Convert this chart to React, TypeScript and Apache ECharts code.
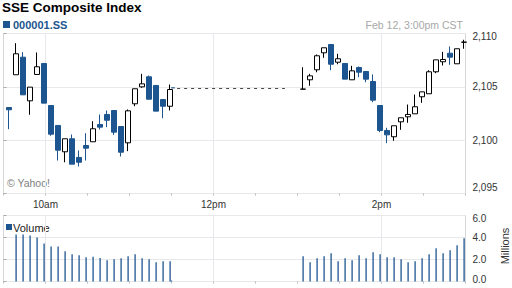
import React, { useEffect, useRef } from "react";
import * as echarts from "echarts";

// ---------- data ----------
const titleText = "SSE Composite Index";
const symbolText = "000001.SS";
const stampText = "Feb 12, 3:00pm CST";
const creditText = "© Yahoo!";
const volumeLegend = "Volume";
const volumeUnit = "Millions";

const candleTimes = [
  "09:34", "09:39", "09:44", "09:49", "09:54", "09:59", "10:04", "10:09", "10:14", "10:19", "10:24", "10:29",
  "10:34", "10:39", "10:44", "10:49", "10:54", "10:59", "11:04", "11:09", "11:14", "11:19", "11:24", "11:29",
  "13:04", "13:09", "13:14", "13:19", "13:24", "13:29", "13:34", "13:39", "13:44", "13:49", "13:54", "13:59",
  "14:04", "14:09", "14:14", "14:19", "14:24", "14:29", "14:34", "14:39", "14:44", "14:49", "14:54", "14:59",
];
const candleOpen = [
  2103.06, 2106.13, 2107.78, 2103.69, 2106.16, 2107.19, 2103.25, 2101.38, 2098.91, 2100.13, 2098.38, 2099.5,
  2099.85, 2101.47, 2102.41, 2102.78, 2101.28, 2099.75, 2103.41, 2105.0, 2105.94, 2105.13, 2103.81, 2103.18,
  2104.78, 2105.66, 2106.6, 2108.19, 2108.97, 2107.31, 2107.19, 2105.66, 2106.81, 2106.44, 2105.5, 2103.25,
  2100.91, 2100.32, 2101.72, 2102.19, 2102.47, 2104.07, 2104.35, 2106.41, 2107.35, 2108.15, 2107.16, 2109.18,
];
const candleClose = [
  2102.85, 2108.1, 2104.25, 2104.97, 2106.88, 2103.47, 2100.56, 2099.06, 2100.13, 2097.75, 2097.93, 2099.25,
  2101.07, 2101.22, 2101.87, 2100.75, 2098.87, 2102.75, 2104.82, 2105.28, 2103.84, 2102.72, 2103.18, 2104.75,
  2104.79, 2106.03, 2107.91, 2108.66, 2107.12, 2107.63, 2105.72, 2106.5, 2106.37, 2105.72, 2103.75, 2100.91,
  2100.5, 2101.35, 2102.1, 2102.41, 2103.13, 2104.53, 2106.41, 2107.53, 2107.56, 2107.78, 2108.57, 2109.19,
];
const candleLow = [
  2101.03, 2106.13, 2104.25, 2102.38, 2106.16, 2103.47, 2100.41, 2098.09, 2097.93, 2097.75, 2097.53, 2098.09,
  2099.85, 2101.0, 2101.22, 2100.5, 2098.47, 2098.97, 2103.18, 2104.91, 2103.84, 2102.72, 2102.06, 2102.78,
  2104.78, 2105.1, 2106.37, 2107.72, 2106.56, 2107.12, 2105.72, 2105.66, 2105.9, 2105.43, 2103.56, 2100.75,
  2099.72, 2099.94, 2100.97, 2101.63, 2102.47, 2103.5, 2104.35, 2106.28, 2107.0, 2107.07, 2107.16, 2108.57,
];
const candleHigh = [
  2103.06, 2109.09, 2108.25, 2104.97, 2108.22, 2107.19, 2103.25, 2101.38, 2100.13, 2100.53, 2099.03, 2100.65,
  2101.78, 2102.41, 2102.78, 2102.78, 2101.28, 2102.88, 2104.82, 2106.22, 2106.06, 2105.13, 2103.81, 2105.22,
  2106.84, 2106.22, 2108.03, 2108.66, 2108.97, 2108.1, 2107.19, 2106.97, 2106.91, 2106.44, 2106.16, 2103.25,
  2101.16, 2101.35, 2102.1, 2103.34, 2104.28, 2104.53, 2106.56, 2107.53, 2108.28, 2108.78, 2108.57, 2109.41,
];

// closing tick of the morning session and the lunch-break line
const closeTickTime = "11:30";
const closeTickPrice = 2104.91;
const lunchTimes = ["11:34", "12:51"];
const lunchPrice = 2104.84;

const volTimes = [
  "09:39", "09:44", "09:49", "09:54", "09:59", "10:04", "10:09", "10:14", "10:19", "10:24", "10:29", "10:34",
  "10:39", "10:44", "10:49", "10:54", "10:59", "11:04", "11:09", "11:14", "11:19", "11:24", "11:29", "11:30",
  "13:04", "13:09", "13:14", "13:19", "13:24", "13:29", "13:34", "13:39", "13:44", "13:49", "13:54", "13:59",
  "14:04", "14:09", "14:14", "14:19", "14:24", "14:29", "14:34", "14:39", "14:44", "14:49", "14:54", "14:59",
];
const volMillions = [
  4.28, 4.28, 4.19, 4.01, 3.46, 3.18, 3.18, 2.75, 2.48, 2.39, 2.2, 2.26,
  2.14, 1.93, 2.02, 2.11, 2.29, 2.48, 2.11, 2.02, 1.74, 1.83, 1.83, 0.09,
  2.29, 1.74, 2.11, 2.29, 2.57, 1.83, 2.11, 1.93, 2.39, 2.11, 2.66, 2.48,
  2.2, 2.2, 2.02, 1.74, 1.83, 2.11, 2.48, 3.03, 2.57, 2.84, 3.3, 3.94,
];

const sessionStart = "09:30";
const sessionEnd = "15:00";
const hourMarks = ["10:00", "12:00", "14:00"];
const hourLabels = ["10am", "12pm", "2pm"];

// ---------- styles ----------
const BLUE = "#1d5590";
const FONT = '"Liberation Sans", Arial, Helvetica, sans-serif';
const FRAME = "#d6d6d6";
const GRID_LINE = "#e7e8ec";
const LABEL = "#333";

const toMin = (t: string) => {
  const [h, m] = t.split(":").map(Number);
  const [h0, m0] = sessionStart.split(":").map(Number);
  return h * 60 + m - (h0 * 60 + m0);
};

export default function App() {
  const ref = useRef<HTMLDivElement>(null);

  useEffect(() => {
    if (!ref.current) return;
    const chart = echarts.init(ref.current, null, { renderer: "svg" });

    const xMax = toMin(sessionEnd);
    const markX = hourMarks.map(toMin);
    const labelFor = (v: number) => {
      const i = markX.indexOf(v);
      return i >= 0 ? hourLabels[i] : "";
    };

    const candles = candleTimes.map((t, i) => [toMin(t), candleOpen[i], candleClose[i], candleLow[i], candleHigh[i]]);
    const vols = volTimes.map((t, i) => [toMin(t), volMillions[i]]);

    const richBase = { fontSize: 10, color: LABEL, fontFamily: FONT };
    const vLines = {
      silent: true,
      z: 1,
      symbol: ["none", "none"],
      label: { show: false },
      lineStyle: { color: GRID_LINE, type: "solid", width: 1 },
      data: markX.map((x) => ({ xAxis: x })),
    };

    const xCommon = {
      type: "value",
      min: 0,
      max: xMax,
      interval: 30,
      axisLine: { show: false },
      axisTick: { show: true, length: 2, lineStyle: { color: "#b8b8b8" } },
      splitLine: { show: false },
    };

    const option: any = {
      animation: false,
      backgroundColor: "#fff",
      textStyle: { fontFamily: FONT },
      grid: [
        { left: 3.5, top: 33.5, width: 462, height: 160, show: true, borderColor: FRAME, borderWidth: 1 },
        { left: 3.5, top: 215.5, width: 462, height: 66, show: true, borderColor: FRAME, borderWidth: 1 },
      ],
      xAxis: [
        {
          ...xCommon,
          gridIndex: 0,
          axisLabel: { formatter: labelFor, fontSize: 10, color: LABEL, margin: 6 },
        },
        { ...xCommon, gridIndex: 1, axisLabel: { show: false } },
      ],
      yAxis: [
        {
          type: "value",
          gridIndex: 0,
          position: "right",
          min: 2095,
          max: 2110,
          interval: 5,
          axisLine: { show: true, lineStyle: { color: FRAME } },
          axisTick: { show: true, length: 3, lineStyle: { color: "#aaa" } },
          splitLine: { show: true, lineStyle: { color: GRID_LINE } },
          axisLabel: {
            margin: 7,
            fontSize: 10,
            color: LABEL,
            formatter: (v: number) => {
              const s = v.toLocaleString("en-US");
              if (v === 2110) return `{top|${s}}`;
              if (v === 2095) return `{bot|${s}}`;
              return `{mid|${s}}`;
            },
            rich: {
              top: { ...richBase, padding: [5, 0, 0, 0] },
              bot: { ...richBase, padding: [0, 0, 12, 0] },
              mid: { ...richBase },
            },
          },
        },
        {
          type: "value",
          gridIndex: 1,
          position: "right",
          min: 0,
          max: 6,
          interval: 2,
          axisLine: { show: true, lineStyle: { color: FRAME } },
          axisTick: { show: true, length: 3, lineStyle: { color: "#aaa" } },
          splitLine: { show: true, lineStyle: { color: GRID_LINE } },
          axisLabel: {
            margin: 7,
            fontSize: 10,
            color: LABEL,
            formatter: (v: number) => {
              const s = v.toFixed(1);
              if (v === 6) return `{top|${s}}`;
              if (v === 0) return `{bot|${s}}`;
              return `{mid|${s}}`;
            },
            rich: {
              top: { ...richBase, padding: [6, 0, 0, 0] },
              bot: { ...richBase, padding: [0, 0, 5, 0] },
              mid: { ...richBase },
            },
          },
        },
      ],
      series: [
        {
          type: "candlestick",
          xAxisIndex: 0,
          yAxisIndex: 0,
          barWidth: 5,
          data: candles,
          itemStyle: {
            color: "#ffffff",
            color0: BLUE,
            borderColor: "#000000",
            borderColor0: BLUE,
            borderWidth: 1,
          },
          markLine: vLines,
        },
        {
          type: "line",
          xAxisIndex: 0,
          yAxisIndex: 0,
          symbol: "none",
          data: lunchTimes.map((t) => [toMin(t), lunchPrice]),
          lineStyle: { color: "#444", width: 1, type: [3, 4] },
          z: 1,
        },
        {
          type: "scatter",
          xAxisIndex: 0,
          yAxisIndex: 0,
          symbol: "rect",
          symbolSize: [3.5, 1.5],
          symbolOffset: [1.5, 0],
          data: [[toMin(closeTickTime), closeTickPrice]],
          itemStyle: { color: BLUE },
        },
        {
          type: "bar",
          xAxisIndex: 1,
          yAxisIndex: 1,
          barWidth: 1.3,
          data: vols,
          itemStyle: { color: BLUE },
          markLine: vLines,
        },
      ],
      graphic: [
        { type: "text", x: 2, y: 7, style: { text: titleText, font: `bold 13.5px ${FONT}`, fill: "#000", verticalAlign: "middle" } },
        { type: "rect", shape: { x: 3, y: 21, width: 7, height: 7 }, style: { fill: BLUE } },
        { type: "text", x: 13, y: 24.5, style: { text: symbolText, font: `bold 11px ${FONT}`, fill: BLUE, verticalAlign: "middle" } },
        { type: "text", x: 463, y: 24.5, style: { text: stampText, font: `10.5px ${FONT}`, fill: "#a8a8a8", align: "right", verticalAlign: "middle" } },
        { type: "text", x: 7, y: 183, style: { text: creditText, font: `10.5px ${FONT}`, fill: "#808080", verticalAlign: "middle" } },
        { type: "rect", shape: { x: 6, y: 224, width: 6, height: 6 }, style: { fill: BLUE } },
        { type: "text", x: 13, y: 227.5, style: { text: volumeLegend, font: `11px ${FONT}`, fill: "#222", verticalAlign: "middle" } },
        { type: "text", x: 505, y: 246, rotation: Math.PI / 2, style: { text: volumeUnit, font: `11px ${FONT}`, fill: LABEL, align: "center", verticalAlign: "middle" } },
      ],
    };

    chart.setOption(option);
    return () => chart.dispose();
  }, []);

  return (
    <div
      ref={ref}
      style={{ position: "fixed", left: 0, top: 0, width: 512, height: 288, background: "#fff" }}
    />
  );
}
